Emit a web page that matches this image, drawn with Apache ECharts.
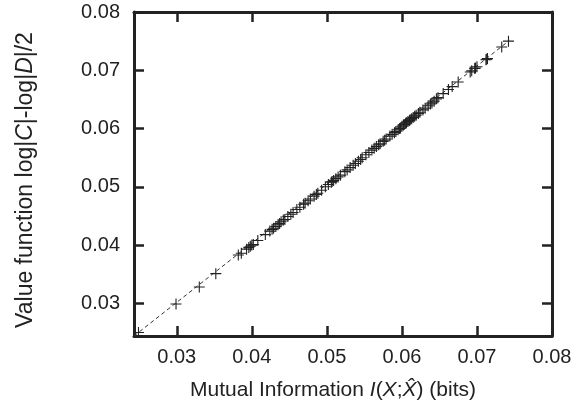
<!DOCTYPE html>
<html>
<head>
<meta charset="utf-8">
<script src="https://cdn.jsdelivr.net/npm/echarts@6/dist/echarts.min.js"></script>
<style>html,body{margin:0;padding:0;background:#fff}#c{width:580px;height:412px}</style>
</head>
<body>
<div id="c"></div>
<script>
var xTicks = [0.03, 0.04, 0.05, 0.06, 0.07, 0.08];
var yTicks = [0.03, 0.04, 0.05, 0.06, 0.07, 0.08];
var mutualInfo = [0.0249,0.0299,0.0330,0.0352,0.0382,0.0386,0.0393,0.0396,0.0398,0.0400,0.0402,0.0408,0.0418,0.0424,0.0427,0.0429,0.0432,0.0435,0.0437,0.0439,0.0442,0.0444,0.0448,0.0452,0.0455,0.0460,0.0464,0.0469,0.0471,0.0475,0.0478,0.0483,0.0486,0.0488,0.0493,0.0498,0.0502,0.0506,0.0507,0.0509,0.0512,0.0515,0.0518,0.0524,0.0527,0.0531,0.0535,0.0538,0.0542,0.0545,0.0547,0.0552,0.0556,0.0560,0.0563,0.0566,0.0569,0.0571,0.0575,0.0577,0.0579,0.0584,0.0587,0.0590,0.0592,0.0595,0.0597,0.0598,0.0600,0.0602,0.0603,0.0605,0.0606,0.0608,0.0610,0.0611,0.0613,0.0615,0.0617,0.0619,0.0622,0.0624,0.0628,0.0631,0.0635,0.0638,0.0640,0.0643,0.0646,0.0648,0.0655,0.0662,0.0667,0.0675,0.0691,0.0693,0.0697,0.0698,0.0700,0.0712,0.0713,0.0714,0.0733,0.0742];
var valueFn = [0.0250,0.0299,0.0328,0.0351,0.0383,0.0386,0.0393,0.0396,0.0398,0.0400,0.0401,0.0408,0.0418,0.0424,0.0427,0.0429,0.0432,0.0435,0.0437,0.0440,0.0443,0.0444,0.0449,0.0453,0.0456,0.0461,0.0465,0.0470,0.0472,0.0476,0.0479,0.0484,0.0487,0.0489,0.0494,0.0500,0.0504,0.0508,0.0509,0.0511,0.0514,0.0517,0.0520,0.0526,0.0529,0.0533,0.0537,0.0540,0.0544,0.0547,0.0550,0.0555,0.0559,0.0563,0.0566,0.0569,0.0572,0.0574,0.0578,0.0580,0.0582,0.0587,0.0590,0.0593,0.0595,0.0598,0.0600,0.0601,0.0604,0.0606,0.0607,0.0609,0.0610,0.0612,0.0614,0.0615,0.0617,0.0619,0.0621,0.0623,0.0626,0.0628,0.0632,0.0635,0.0639,0.0642,0.0644,0.0647,0.0651,0.0653,0.0660,0.0667,0.0672,0.0680,0.0697,0.0699,0.0703,0.0704,0.0706,0.0718,0.0719,0.0720,0.0740,0.0750];
var fitX = [0.0243, 0.0743];
var fitY = [0.0244, 0.0751];

var X_MIN = 0.0243, X_MAX = 0.08, Y_MIN = 0.0244, Y_MAX = 0.08;
var FONT = 'Liberation Sans, Arial, Helvetica, sans-serif';
var INK = '#222';

function axisCommon(show) {
  return {
    axisLine: { show: true, onZero: false, lineStyle: { color: INK, width: 3 } },
    axisTick: { show: true, inside: true, length: 10, lineStyle: { color: INK, width: 2.5 } },
    splitLine: { show: false },
    axisLabel: { show: show }
  };
}

var pts = mutualInfo.map(function (x, i) { return [x, valueFn[i]]; });
var fit = fitX.map(function (x, i) { return [x, fitY[i]]; });

var chart = echarts.init(document.getElementById('c'), null, { renderer: 'canvas' });
var bx = axisCommon(true), tx = axisCommon(false), ly = axisCommon(true), ry = axisCommon(false);
bx.axisTick.customValues = xTicks; bx.axisLabel = { show: true, customValues: xTicks, color: INK, fontSize: 20, fontFamily: FONT, margin: 11, formatter: function (v) { return v.toFixed(2); } };
tx.axisTick.customValues = xTicks;
ly.axisTick.customValues = yTicks; ly.axisLabel = { show: true, customValues: yTicks, color: INK, fontSize: 20, fontFamily: FONT, margin: 14, formatter: function (v) { return v.toFixed(2); } };
ry.axisTick.customValues = yTicks;

var richX = { n: { fontSize: 21, fontFamily: FONT, color: INK }, i: { fontSize: 21, fontFamily: FONT, fontStyle: 'italic', color: INK } };
var richY = { n: { fontSize: 23, fontFamily: FONT, color: INK }, i: { fontSize: 23, fontFamily: FONT, fontStyle: 'italic', color: INK } };

chart.setOption({
  backgroundColor: '#fff',
  animation: false,
  grid: { left: 134, right: 28, top: 12, bottom: 76 },
  xAxis: [
    Object.assign({ type: 'value', position: 'bottom', min: X_MIN, max: X_MAX,
      name: '{n|Mutual Information }{i|I}{n|(}{i|X}{n|;}{i|X\u0302}{n|) (bits)}',
      nameLocation: 'middle', nameGap: 44,
      nameTextStyle: { rich: richX, padding: [0, 20, 0, 0] }
    }, bx),
    Object.assign({ type: 'value', position: 'top', min: X_MIN, max: X_MAX }, tx)
  ],
  yAxis: [
    Object.assign({ type: 'value', position: 'left', min: Y_MIN, max: Y_MAX,
      name: '{n|Value function log|}{i|C}{n||-log|}{i|D}{n||/2}',
      nameLocation: 'middle', nameGap: 97,
      nameTextStyle: { rich: richY, padding: [0, 12, 0, 0] }
    }, ly),
    Object.assign({ type: 'value', position: 'right', min: Y_MIN, max: Y_MAX }, ry)
  ],
  series: [
    { type: 'line', data: fit, xAxisIndex: 0, yAxisIndex: 0, showSymbol: false, symbol: 'none',
      lineStyle: { color: '#333', width: 1, type: [4, 3] }, z: 2, silent: true },
    { type: 'scatter', data: pts, xAxisIndex: 0, yAxisIndex: 0,
      symbol: 'path://M4.5,0H5.5V4.5H10V5.5H5.5V10H4.5V5.5H0V4.5H4.5Z', symbolSize: 11,
      itemStyle: { color: INK, opacity: 1 }, z: 3, silent: true }
  ]
});
</script>
</body>
</html>
